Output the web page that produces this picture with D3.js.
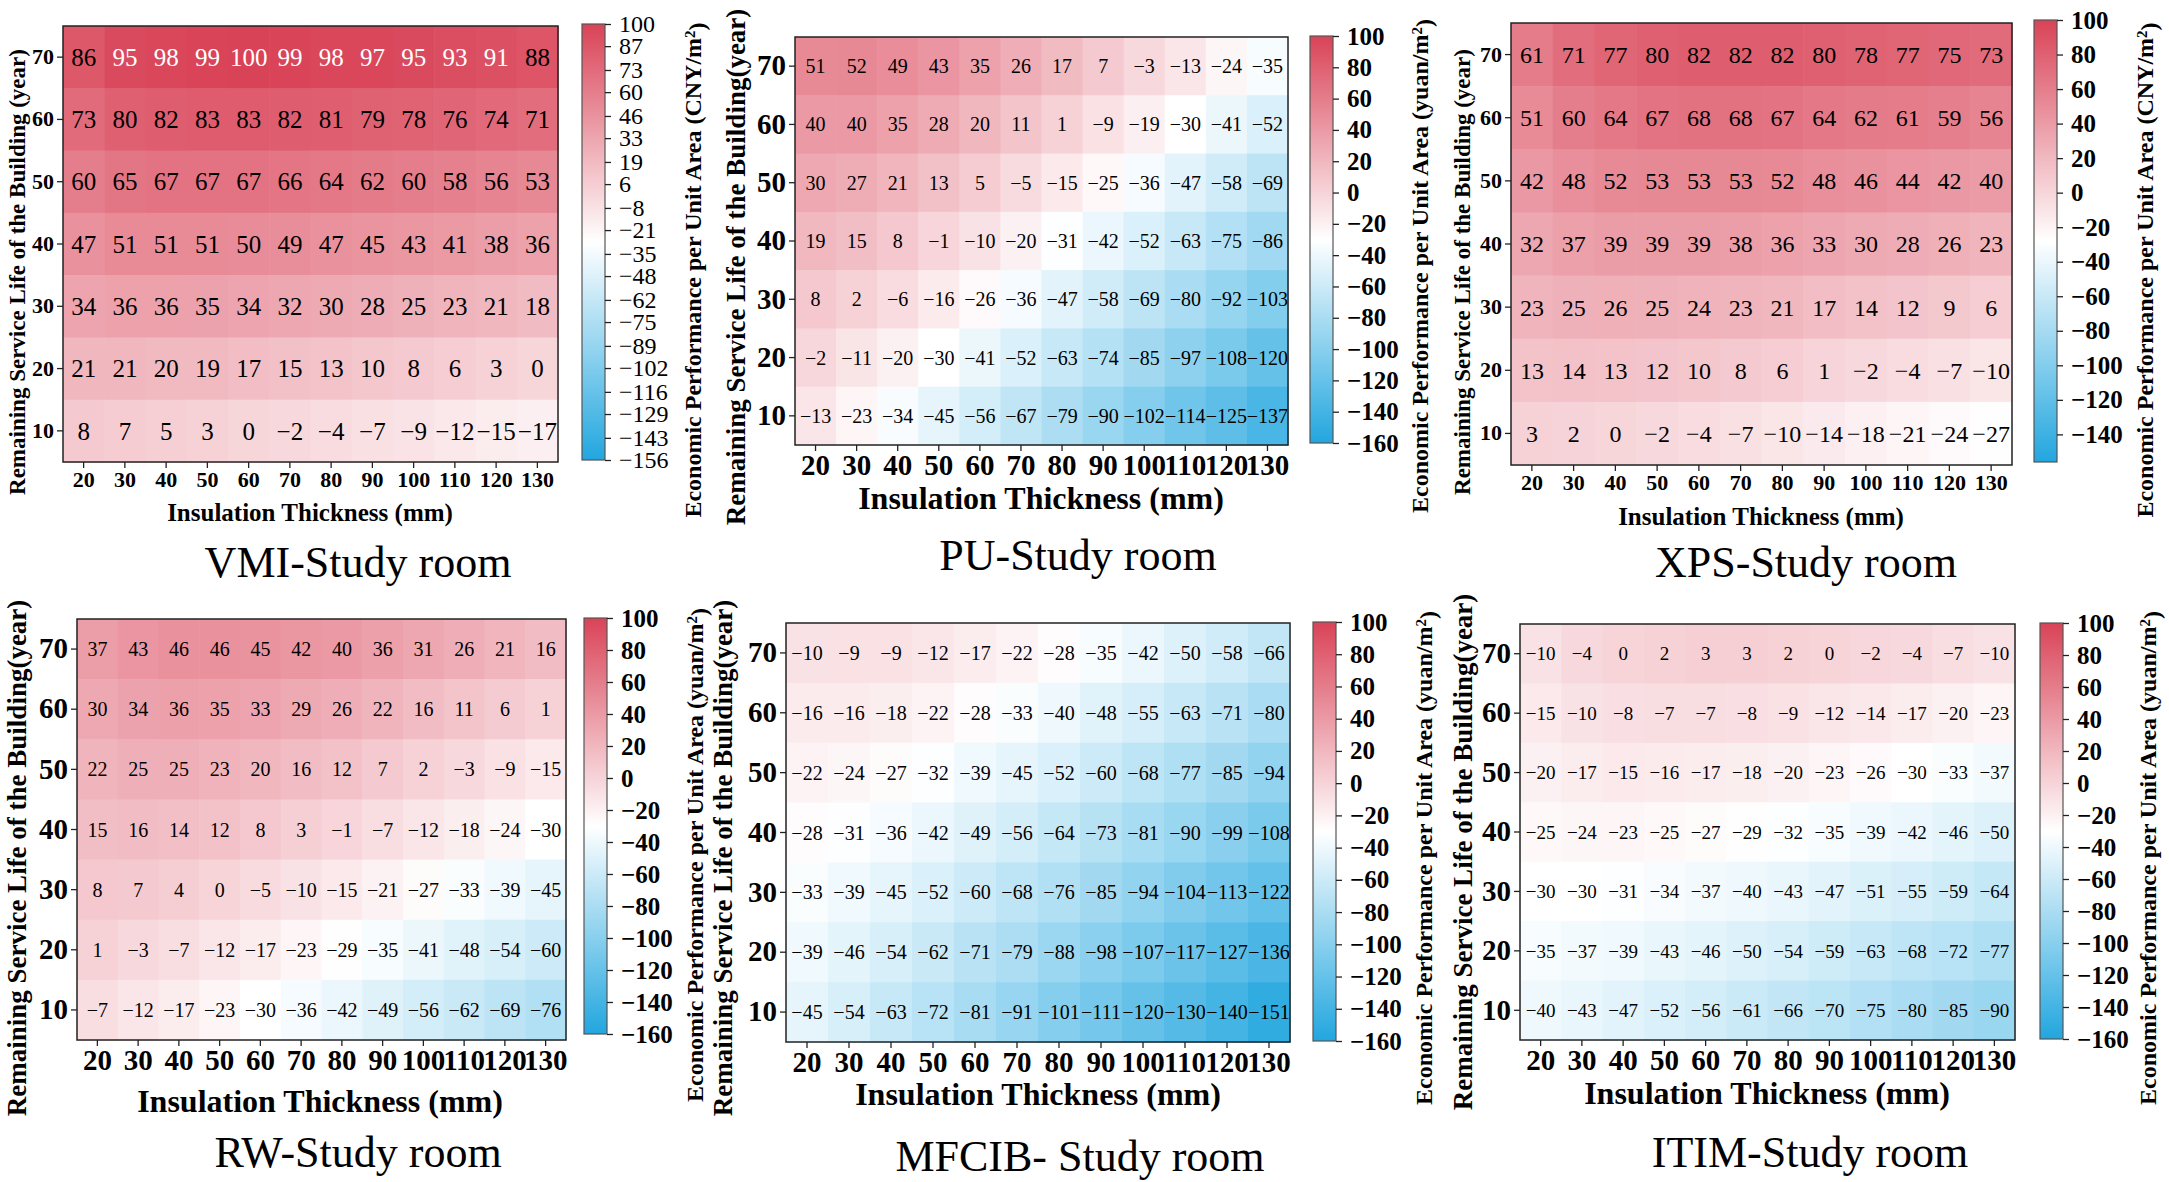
<!DOCTYPE html>
<html>
<head>
<meta charset="utf-8">
<script src="https://cdn.jsdelivr.net/npm/d3@7"></script>
<style>
  body { margin: 0; background: #fff; }
  svg { display: block; font-family: "Liberation Serif", "Times New Roman", serif; }
</style>
</head>
<body>
<svg id="fig" width="2169" height="1182"></svg>
<script>
// axes categories
var thickness = [20, 30, 40, 50, 60, 70, 80, 90, 100, 110, 120, 130];
var serviceLife = [70, 60, 50, 40, 30, 20, 10];

// cell values, rows = service life (70 -> 10), columns = thickness (20 -> 130)
var vmiValues = [
  [86, 95, 98, 99, 100, 99, 98, 97, 95, 93, 91, 88],
  [73, 80, 82, 83, 83, 82, 81, 79, 78, 76, 74, 71],
  [60, 65, 67, 67, 67, 66, 64, 62, 60, 58, 56, 53],
  [47, 51, 51, 51, 50, 49, 47, 45, 43, 41, 38, 36],
  [34, 36, 36, 35, 34, 32, 30, 28, 25, 23, 21, 18],
  [21, 21, 20, 19, 17, 15, 13, 10, 8, 6, 3, 0],
  [8, 7, 5, 3, 0, -2, -4, -7, -9, -12, -15, -17]
];
var puValues = [
  [51, 52, 49, 43, 35, 26, 17, 7, -3, -13, -24, -35],
  [40, 40, 35, 28, 20, 11, 1, -9, -19, -30, -41, -52],
  [30, 27, 21, 13, 5, -5, -15, -25, -36, -47, -58, -69],
  [19, 15, 8, -1, -10, -20, -31, -42, -52, -63, -75, -86],
  [8, 2, -6, -16, -26, -36, -47, -58, -69, -80, -92, -103],
  [-2, -11, -20, -30, -41, -52, -63, -74, -85, -97, -108, -120],
  [-13, -23, -34, -45, -56, -67, -79, -90, -102, -114, -125, -137]
];
var xpsValues = [
  [61, 71, 77, 80, 82, 82, 82, 80, 78, 77, 75, 73],
  [51, 60, 64, 67, 68, 68, 67, 64, 62, 61, 59, 56],
  [42, 48, 52, 53, 53, 53, 52, 48, 46, 44, 42, 40],
  [32, 37, 39, 39, 39, 38, 36, 33, 30, 28, 26, 23],
  [23, 25, 26, 25, 24, 23, 21, 17, 14, 12, 9, 6],
  [13, 14, 13, 12, 10, 8, 6, 1, -2, -4, -7, -10],
  [3, 2, 0, -2, -4, -7, -10, -14, -18, -21, -24, -27]
];
var rwValues = [
  [37, 43, 46, 46, 45, 42, 40, 36, 31, 26, 21, 16],
  [30, 34, 36, 35, 33, 29, 26, 22, 16, 11, 6, 1],
  [22, 25, 25, 23, 20, 16, 12, 7, 2, -3, -9, -15],
  [15, 16, 14, 12, 8, 3, -1, -7, -12, -18, -24, -30],
  [8, 7, 4, 0, -5, -10, -15, -21, -27, -33, -39, -45],
  [1, -3, -7, -12, -17, -23, -29, -35, -41, -48, -54, -60],
  [-7, -12, -17, -23, -30, -36, -42, -49, -56, -62, -69, -76]
];
var mfcibValues = [
  [-10, -9, -9, -12, -17, -22, -28, -35, -42, -50, -58, -66],
  [-16, -16, -18, -22, -28, -33, -40, -48, -55, -63, -71, -80],
  [-22, -24, -27, -32, -39, -45, -52, -60, -68, -77, -85, -94],
  [-28, -31, -36, -42, -49, -56, -64, -73, -81, -90, -99, -108],
  [-33, -39, -45, -52, -60, -68, -76, -85, -94, -104, -113, -122],
  [-39, -46, -54, -62, -71, -79, -88, -98, -107, -117, -127, -136],
  [-45, -54, -63, -72, -81, -91, -101, -111, -120, -130, -140, -151]
];
var itimValues = [
  [-10, -4, 0, 2, 3, 3, 2, 0, -2, -4, -7, -10],
  [-15, -10, -8, -7, -7, -8, -9, -12, -14, -17, -20, -23],
  [-20, -17, -15, -16, -17, -18, -20, -23, -26, -30, -33, -37],
  [-25, -24, -23, -25, -27, -29, -32, -35, -39, -42, -46, -50],
  [-30, -30, -31, -34, -37, -40, -43, -47, -51, -55, -59, -64],
  [-35, -37, -39, -43, -46, -50, -54, -59, -63, -68, -72, -77],
  [-40, -43, -47, -52, -56, -61, -66, -70, -75, -80, -85, -90]
];

// colour bar ranges and tick labels
var cnyDomain = [-156, 100];
var yuanDomain = [-160, 100];
var vmiTicks = [100, 87, 73, 60, 46, 33, 19, 6, -8, -21, -35, -48, -62, -75, -89, -102, -116, -129, -143, -156];
var xpsTicks = [100, 80, 60, 40, 20, 0, -20, -40, -60, -80, -100, -120, -140];
var yuanTicks = [100, 80, 60, 40, 20, 0, -20, -40, -60, -80, -100, -120, -140, -160];

var blue = "rgb(34,166,223)", red = "rgb(217,67,87)";
var ink = "#222";

var panels = [
  { title: "VMI-Study room", values: vmiValues, domain: cnyDomain, cbTicks: vmiTicks, unit: "CNY",
    ylab: "Remaining Service Life of the Building (year)",
    plot: [63, 26, 495, 436], cb: [582, 24, 23, 436], cbTickBold: false,
    ylabPos: [17, 272], cbLabPos: [693, 270], xlabPos: [310, 512], titlePos: [358, 562],
    tickFont: 22, cellFont: 25, labFont: 25, ylabFont: 23 },
  { title: "PU-Study room", values: puValues, domain: yuanDomain, cbTicks: yuanTicks, unit: "yuan",
    ylab: "Remaining Service Life of the Building(year)",
    plot: [795, 37, 493, 408], cb: [1310, 36, 23, 407], cbTickBold: true,
    ylabPos: [736, 267], cbLabPos: [1420, 266], xlabPos: [1041, 498], titlePos: [1078, 555],
    tickFont: 29, cellFont: 20, labFont: 32, ylabFont: 27 },
  { title: "XPS-Study room", values: xpsValues, domain: cnyDomain, cbTicks: xpsTicks, unit: "CNY",
    ylab: "Remaining Service Life of the Building (year)",
    plot: [1511, 23, 501, 442], cb: [2034, 20, 23, 442], cbTickBold: true,
    ylabPos: [1462, 272], cbLabPos: [2145, 270], xlabPos: [1761, 516], titlePos: [1806, 562],
    tickFont: 22, cellFont: 24, labFont: 25, ylabFont: 23 },
  { title: "RW-Study room", values: rwValues, domain: yuanDomain, cbTicks: yuanTicks, unit: "yuan",
    ylab: "Remaining Service Life of the Building(year)",
    plot: [77, 619, 489, 421], cb: [584, 618, 23, 416], cbTickBold: true,
    ylabPos: [17, 858], cbLabPos: [695, 855], xlabPos: [320, 1101], titlePos: [358, 1152],
    tickFont: 29, cellFont: 20, labFont: 32, ylabFont: 27 },
  { title: "MFCIB- Study room", values: mfcibValues, domain: yuanDomain, cbTicks: yuanTicks, unit: "yuan",
    ylab: "Remaining Service Life of the Building(year)",
    plot: [786, 623, 504, 419], cb: [1313, 622, 23, 419], cbTickBold: true,
    ylabPos: [723, 858], cbLabPos: [1424, 858], xlabPos: [1038, 1094], titlePos: [1080, 1156],
    tickFont: 29, cellFont: 20, labFont: 32, ylabFont: 27 },
  { title: "ITIM-Study room", values: itimValues, domain: yuanDomain, cbTicks: yuanTicks, unit: "yuan",
    ylab: "Remaining Service Life of the Building(year)",
    plot: [1520, 624, 495, 416], cb: [2040, 623, 23, 416], cbTickBold: true,
    ylabPos: [1463, 852], cbLabPos: [2148, 858], xlabPos: [1767, 1093], titlePos: [1810, 1152],
    tickFont: 29, cellFont: 19, labFont: 32, ylabFont: 27 }
];

var svg = d3.select("#fig");
var defs = svg.append("defs");

function fmt(v) { return d3.format("d")(v); }

function styleAxis(g, size, bold) {
  g.select(".domain").remove();
  g.selectAll(".tick line").attr("stroke", ink).attr("stroke-width", 1.3);
  g.selectAll(".tick text")
    .attr("fill", "#000")
    .style("font-family", "'Liberation Serif', 'Times New Roman', serif")
    .style("font-size", size + "px")
    .style("font-weight", bold ? "bold" : "normal");
}

function drawPanel(p, idx) {
  var g = svg.append("g").attr("class", "panel");
  var px = p.plot[0], py = p.plot[1], pw = p.plot[2], ph = p.plot[3];

  var x = d3.scaleBand().domain(thickness).range([px, px + pw]);
  var y = d3.scaleBand().domain(serviceLife).range([py, py + ph]);
  var mid = (p.domain[0] + p.domain[1]) / 2;
  var color = d3.scaleLinear()
    .domain([p.domain[0], mid, p.domain[1]])
    .range([blue, "#ffffff", red])
    .interpolate(d3.interpolateRgb)
    .clamp(true);

  var cells = [];
  serviceLife.forEach(function (life, i) {
    thickness.forEach(function (t, j) {
      cells.push({ life: life, t: t, v: p.values[i][j] });
    });
  });

  g.selectAll(".cell")
    .data(cells)
    .enter()
    .append("rect")
    .attr("class", "cell")
    .attr("x", d => x(d.t))
    .attr("y", d => y(d.life))
    .attr("width", x.bandwidth() + 0.6)
    .attr("height", y.bandwidth() + 0.6)
    .attr("fill", d => color(d.v));

  g.selectAll(".annot")
    .data(cells)
    .enter()
    .append("text")
    .attr("class", "annot")
    .attr("x", d => x(d.t) + x.bandwidth() / 2)
    .attr("y", d => y(d.life) + y.bandwidth() / 2)
    .attr("dy", "0.35em")
    .attr("text-anchor", "middle")
    .attr("font-size", p.cellFont)
    .attr("fill", d => d.v > 89 ? "#fff" : "#000")
    .text(d => fmt(d.v));

  // frame
  g.append("rect")
    .attr("x", px).attr("y", py).attr("width", pw).attr("height", ph)
    .attr("fill", "none").attr("stroke", ink).attr("stroke-width", 1.5);

  var xAxis = g.append("g")
    .attr("transform", "translate(0," + (py + ph) + ")")
    .call(d3.axisBottom(x).tickSize(6).tickSizeOuter(0).tickPadding(3));
  styleAxis(xAxis, p.tickFont, true);

  var yAxis = g.append("g")
    .attr("transform", "translate(" + px + ",0)")
    .call(d3.axisLeft(y).tickSize(6).tickSizeOuter(0).tickPadding(3));
  styleAxis(yAxis, p.tickFont, true);

  // colour bar
  var cx = p.cb[0], cy = p.cb[1], cw = p.cb[2], ch = p.cb[3];
  var gid = "grad" + idx;
  var grad = defs.append("linearGradient")
    .attr("id", gid).attr("x1", 0).attr("y1", 1).attr("x2", 0).attr("y2", 0);
  d3.range(0, 1.0001, 0.05).forEach(function (o) {
    grad.append("stop")
      .attr("offset", o)
      .attr("stop-color", color(p.domain[0] + o * (p.domain[1] - p.domain[0])));
  });
  g.append("rect")
    .attr("x", cx).attr("y", cy).attr("width", cw).attr("height", ch)
    .attr("fill", "url(#" + gid + ")")
    .attr("stroke", "#555").attr("stroke-width", 1.2);

  var cbScale = d3.scaleLinear().domain(p.domain).range([cy + ch, cy]);
  var cbAxis = g.append("g")
    .attr("transform", "translate(" + (cx + cw) + ",0)")
    .call(d3.axisRight(cbScale).tickValues(p.cbTicks).tickFormat(fmt).tickSize(6).tickPadding(8));
  styleAxis(cbAxis, p.cbTickBold ? 25 : 24, p.cbTickBold);

  // axis titles
  g.append("text")
    .attr("x", p.xlabPos[0]).attr("y", p.xlabPos[1]).attr("dy", "0.35em")
    .attr("text-anchor", "middle")
    .attr("font-size", p.labFont).attr("font-weight", "bold")
    .text("Insulation Thickness (mm)");

  g.append("text")
    .attr("transform", "translate(" + p.ylabPos[0] + "," + p.ylabPos[1] + ") rotate(-90)")
    .attr("dy", "0.35em")
    .attr("text-anchor", "middle")
    .attr("font-size", p.ylabFont).attr("font-weight", "bold")
    .text(p.ylab);

  var cbl = g.append("text")
    .attr("transform", "translate(" + p.cbLabPos[0] + "," + p.cbLabPos[1] + ") rotate(-90)")
    .attr("dy", "0.35em")
    .attr("text-anchor", "middle")
    .attr("font-size", 24).attr("font-weight", "bold");
  cbl.append("tspan").text("Economic Performance per Unit Area (" + p.unit + "/m");
  cbl.append("tspan").attr("dy", "-0.45em").attr("font-size", 15).text("2");
  cbl.append("tspan").attr("dy", "0.45em").text(")");

  g.append("text")
    .attr("x", p.titlePos[0]).attr("y", p.titlePos[1]).attr("dy", "0.35em")
    .attr("text-anchor", "middle")
    .attr("font-size", 44)
    .text(p.title);
}

panels.forEach(drawPanel);
</script>
</body>
</html>
